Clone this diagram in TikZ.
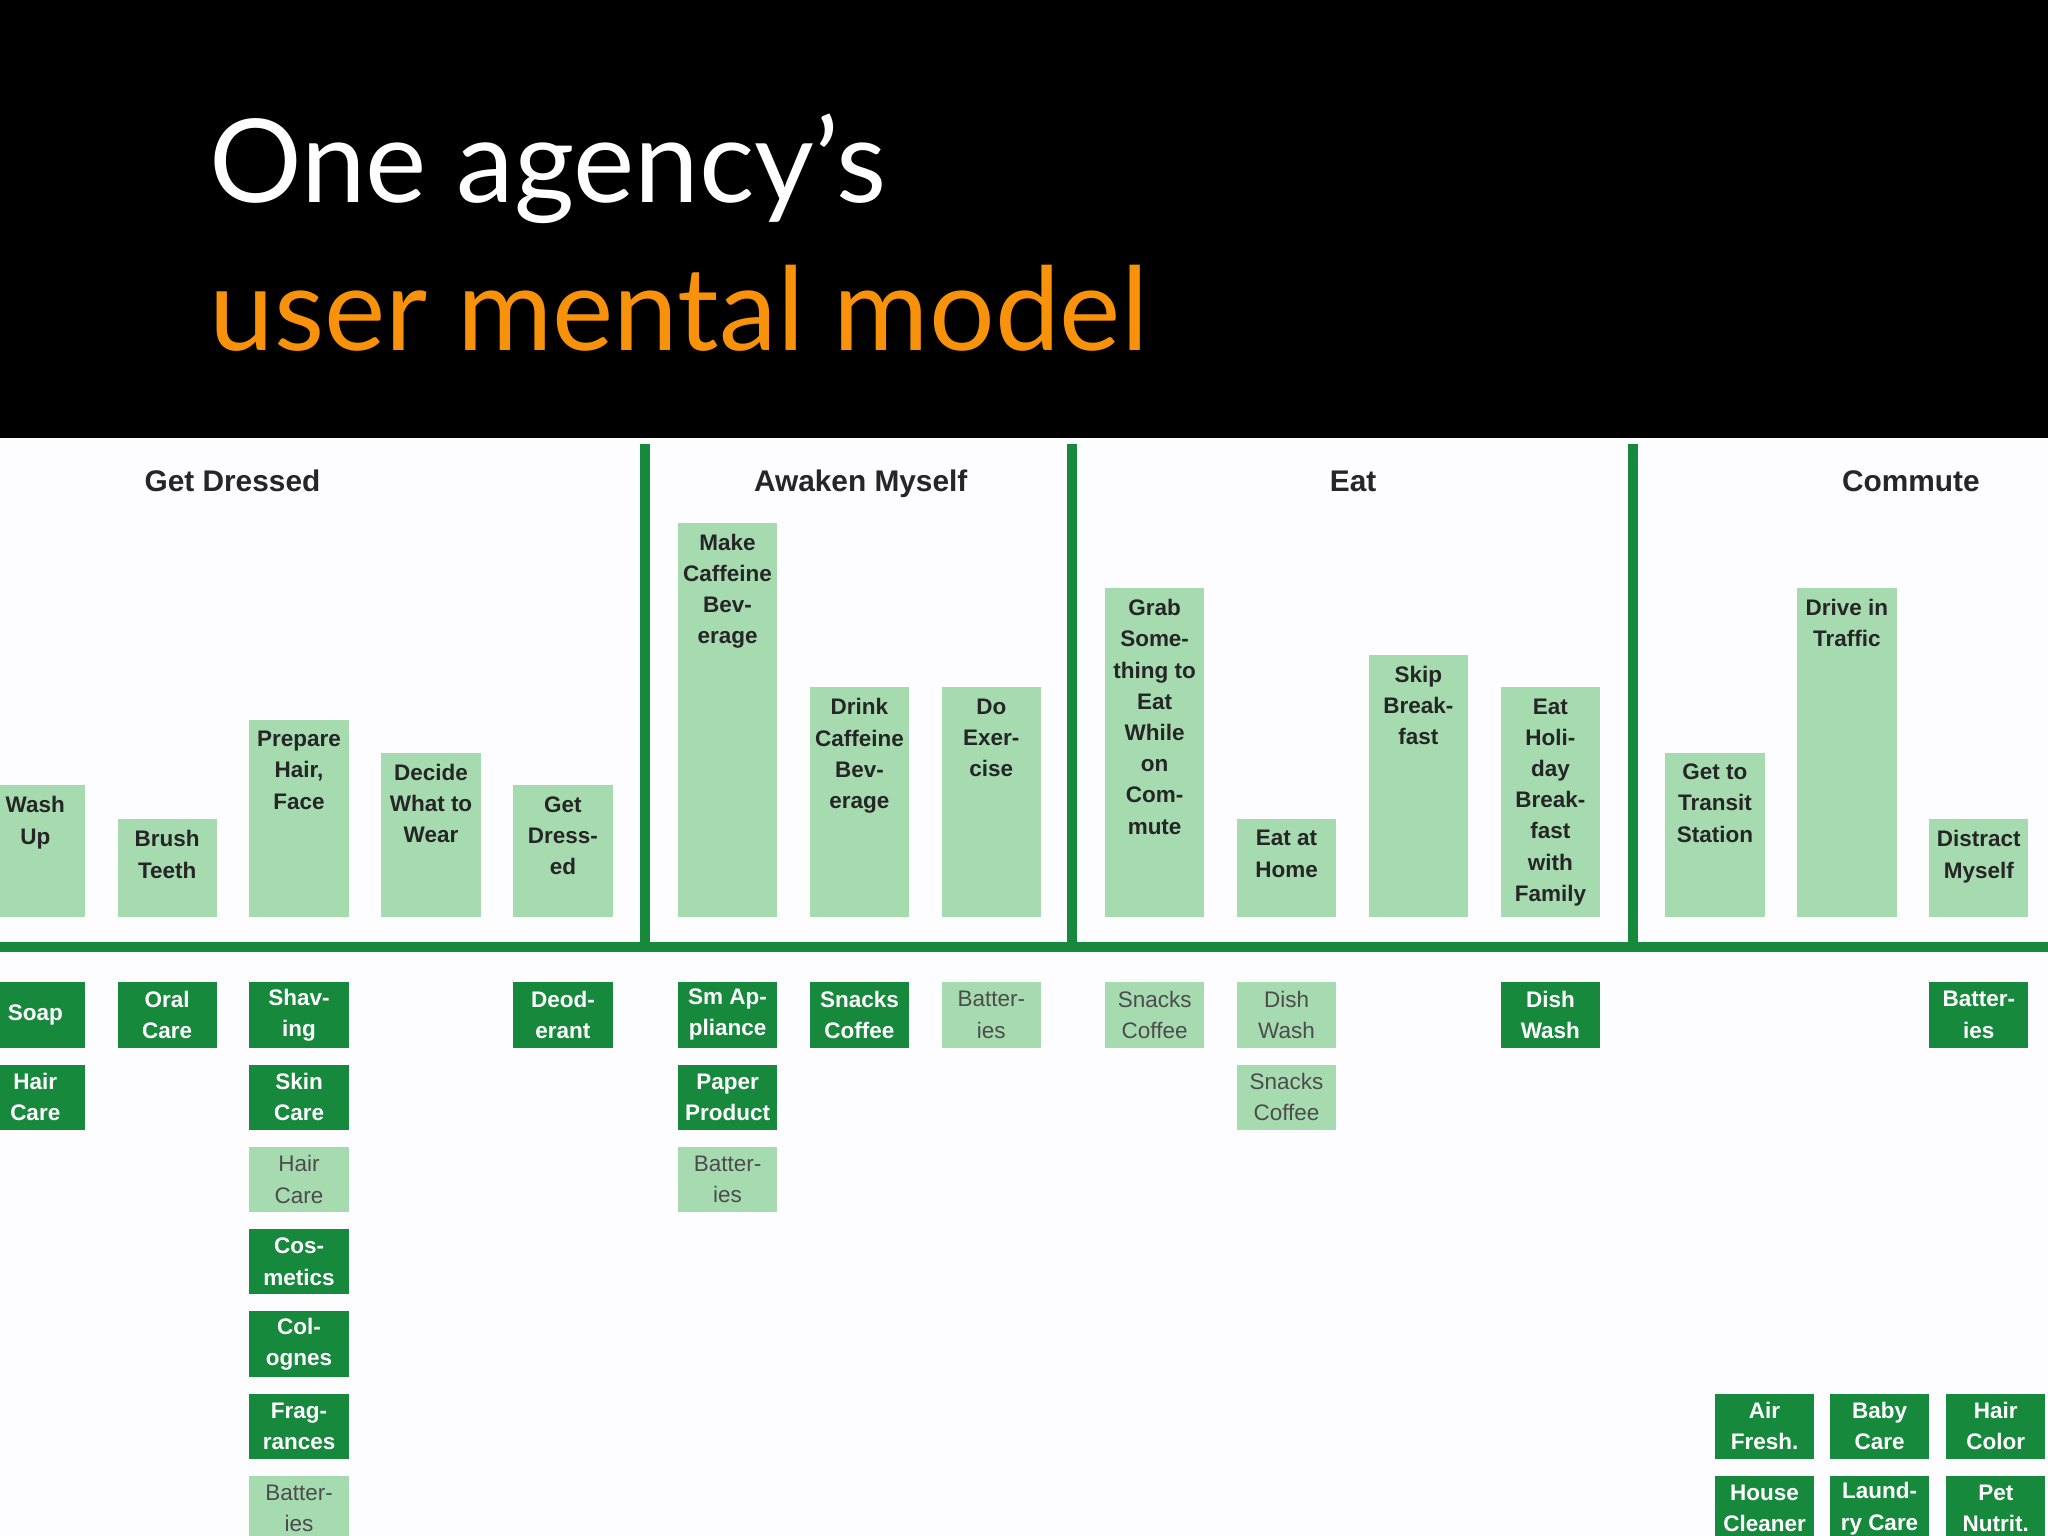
\documentclass[tikz,border=0pt]{standalone}
\usepackage{fontspec}
\setmainfont{Liberation Sans}
\newfontfamily\titlefont{Lato}
\definecolor{dk}{HTML}{16893D}
\definecolor{lt}{HTML}{A6DBB0}
\definecolor{org}{HTML}{F7920A}
\definecolor{bg}{HTML}{FDFCFE}
\begin{document}
\begin{tikzpicture}[x=0.02cm,y=-0.02cm,
  tall/.style={fill=lt,draw=none,minimum width=1.52cm,anchor=north,inner sep=0},
  ttxt/.style={anchor=north,align=center,font=\fontsize{9.8}{13.6}\selectfont\bfseries,text=black!85,inner sep=0},
  db/.style={fill=dk,minimum width=1.52cm,minimum height=1cm,align=center,text=white,font=\fontsize{9.8}{13.6}\selectfont\bfseries,inner sep=0},
  lb/.style={fill=lt,minimum width=1.52cm,minimum height=1cm,align=center,text=black!70,font=\fontsize{9.8}{13.6}\selectfont,inner sep=0},
  hd/.style={font=\fontsize{13}{16}\selectfont\bfseries,text=black!85,anchor=base,inner sep=0},
  gl/.style={draw=dk,line width=0.15cm}]
\useasboundingbox (0,0) rectangle (1568,1176);
\clip (0,0) rectangle (1568,1176);
\fill[bg] (0,0) rectangle (1568,1176);
\fill[black] (0,0) rectangle (1568,335);
\node[anchor=base west,text=white,font=\titlefont\fontsize{50.5}{56}\selectfont,inner sep=0] (t1) at (160,155) {One agency’s};
\node[anchor=base west,text=org,font=\titlefont\fontsize{50.5}{56}\selectfont,inner sep=0] (t2) at (160,268) {user mental model};
% grid lines
\coordinate (hl) at (0,725); \coordinate (hr) at (1568,725);
\draw[gl] (hl) -- (hr);
\foreach \x in {494,821,1250}{\draw[gl] (\x,340) -- (\x,725);}
\node[hd] (h1) at (178,376) {Get Dressed};
\node[hd] (h2) at (659,376) {Awaken Myself};
\node[hd] (h3) at (1036,376) {Eat};
\node[hd] (h4) at (1463,376) {Commute};
% tall boxes
\foreach \n/\x/\t/\s in {a/27/601/{Wash\\Up},b/128/627/{Brush\\Teeth},c/229/551/{Prepare\\Hair,\\Face},d/330/576/{Decide\\What to\\Wear},e/431/601/{Get\\Dress-\\ed},f/557/400/{Make\\Caffeine\\Bev-\\erage},g/658/526/{Drink\\Caffeine\\Bev-\\erage},h/759/526/{Do\\Exer-\\cise},i/884/450/{Grab\\Some-\\thing to\\Eat\\While\\on\\Com-\\mute},j/985/627/{Eat at\\Home},k/1086/501/{Skip\\Break-\\fast},l/1187/526/{Eat\\Holi-\\day\\Break-\\fast\\with\\Family},m/1313/576/{Get to\\Transit\\Station},n/1414/450/{Drive in\\Traffic},o/1515/627/{Distract\\Myself}}{
  \pgfmathsetmacro\hh{(702-\t)*0.02}
  \node[tall,minimum height=\hh cm] (T\n) at (\x,\t) {};
  \node[ttxt] (L\n) at ([yshift=-0.17cm]T\n.north) {\s};
}
% small boxes (center y)
\foreach \n/\x/\y/\st/\s in {
 a1/27/777/db/Soap, a2/27/840/db/{Hair\\Care},
 b1/128/777/db/{Oral\\Care},
 c1/229/777/db/{Shav-\\ing}, c2/229/840/db/{Skin\\Care}, c3/229/903/lb/{Hair\\Care}, c4/229/966/db/{Cos-\\metics}, c5/229/1029/db/{Col-\\ognes}, c6/229/1092/db/{Frag-\\rances}, c7/229/1155/lb/{Batter-\\ies},
 e1/431/777/db/{Deod-\\erant},
 f1/557/777/db/{Sm Ap-\\pliance}, f2/557/840/db/{Paper\\Product}, f3/557/903/lb/{Batter-\\ies},
 g1/658/777/db/{Snacks\\Coffee},
 h1/759/777/lb/{Batter-\\ies},
 i1/884/777/lb/{Snacks\\Coffee},
 j1/985/777/lb/{Dish\\Wash}, j2/985/840/lb/{Snacks\\Coffee},
 l1/1187/777/db/{Dish\\Wash},
 o1/1515/777/db/{Batter-\\ies},
 p1/1351/1092/db/{Air\\Fresh.}, p2/1439/1092/db/{Baby\\Care}, p3/1528/1092/db/{Hair\\Color},
 q1/1351/1155/db/{House\\Cleaner}, q2/1439/1155/db/{Laund-\\ry Care}, q3/1528/1155/db/{Pet\\Nutrit.}}{
  \node[\st] (S\n) at (\x,\y) {\s};
}
\end{tikzpicture}
\end{document}
